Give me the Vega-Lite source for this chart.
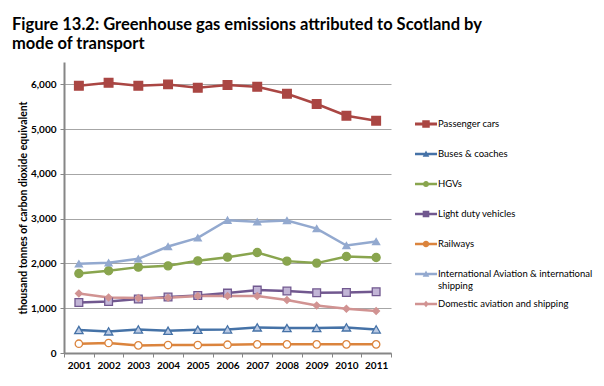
{
  "$schema": "https://vega.github.io/schema/vega-lite/v6.json",
  "autosize": "none",
  "width": 327,
  "height": 291,
  "padding": {"left": 64, "top": 62, "right": 213, "bottom": 33},
  "background": "white",
  "config": {
    "font": "Lato",
    "view": {"stroke": null},
    "axis": {"labelFont": "Lato", "titleFont": "Lato", "labelColor": "#000", "titleColor": "#000"}
  },
  "title": {
    "text": ["Figure 13.2: Greenhouse gas emissions attributed to Scotland by", "mode of transport"],
    "anchor": "start",
    "frame": "group",
    "dx": -52,
    "offset": 10,
    "font": "Lato",
    "fontSize": 16.5,
    "fontWeight": "bold",
    "lineHeight": 18.5,
    "color": "#000"
  },
  "data": {"values": [
    {"year": "2001", "series": "Passenger cars", "value": 5969},
    {"year": "2002", "series": "Passenger cars", "value": 6036},
    {"year": "2003", "series": "Passenger cars", "value": 5969},
    {"year": "2004", "series": "Passenger cars", "value": 6000},
    {"year": "2005", "series": "Passenger cars", "value": 5925},
    {"year": "2006", "series": "Passenger cars", "value": 5985},
    {"year": "2007", "series": "Passenger cars", "value": 5947},
    {"year": "2008", "series": "Passenger cars", "value": 5791},
    {"year": "2009", "series": "Passenger cars", "value": 5561},
    {"year": "2010", "series": "Passenger cars", "value": 5300},
    {"year": "2011", "series": "Passenger cars", "value": 5189},
    {"year": "2001", "series": "Buses & coaches", "value": 513},
    {"year": "2002", "series": "Buses & coaches", "value": 483},
    {"year": "2003", "series": "Buses & coaches", "value": 527},
    {"year": "2004", "series": "Buses & coaches", "value": 498},
    {"year": "2005", "series": "Buses & coaches", "value": 520},
    {"year": "2006", "series": "Buses & coaches", "value": 527},
    {"year": "2007", "series": "Buses & coaches", "value": 572},
    {"year": "2008", "series": "Buses & coaches", "value": 557},
    {"year": "2009", "series": "Buses & coaches", "value": 557},
    {"year": "2010", "series": "Buses & coaches", "value": 572},
    {"year": "2011", "series": "Buses & coaches", "value": 527},
    {"year": "2001", "series": "HGVs", "value": 1776},
    {"year": "2002", "series": "HGVs", "value": 1836},
    {"year": "2003", "series": "HGVs", "value": 1918},
    {"year": "2004", "series": "HGVs", "value": 1947},
    {"year": "2005", "series": "HGVs", "value": 2059},
    {"year": "2006", "series": "HGVs", "value": 2141},
    {"year": "2007", "series": "HGVs", "value": 2244},
    {"year": "2008", "series": "HGVs", "value": 2052},
    {"year": "2009", "series": "HGVs", "value": 2008},
    {"year": "2010", "series": "HGVs", "value": 2155},
    {"year": "2011", "series": "HGVs", "value": 2133},
    {"year": "2001", "series": "Light duty vehicles", "value": 1129},
    {"year": "2002", "series": "Light duty vehicles", "value": 1151},
    {"year": "2003", "series": "Light duty vehicles", "value": 1204},
    {"year": "2004", "series": "Light duty vehicles", "value": 1249},
    {"year": "2005", "series": "Light duty vehicles", "value": 1285},
    {"year": "2006", "series": "Light duty vehicles", "value": 1338},
    {"year": "2007", "series": "Light duty vehicles", "value": 1405},
    {"year": "2008", "series": "Light duty vehicles", "value": 1383},
    {"year": "2009", "series": "Light duty vehicles", "value": 1345},
    {"year": "2010", "series": "Light duty vehicles", "value": 1352},
    {"year": "2011", "series": "Light duty vehicles", "value": 1367},
    {"year": "2001", "series": "Railways", "value": 207},
    {"year": "2002", "series": "Railways", "value": 223},
    {"year": "2003", "series": "Railways", "value": 170},
    {"year": "2004", "series": "Railways", "value": 178},
    {"year": "2005", "series": "Railways", "value": 178},
    {"year": "2006", "series": "Railways", "value": 185},
    {"year": "2007", "series": "Railways", "value": 193},
    {"year": "2008", "series": "Railways", "value": 193},
    {"year": "2009", "series": "Railways", "value": 193},
    {"year": "2010", "series": "Railways", "value": 193},
    {"year": "2011", "series": "Railways", "value": 193},
    {"year": "2001", "series": "International Aviation & international shipping", "value": 1992},
    {"year": "2002", "series": "International Aviation & international shipping", "value": 2014},
    {"year": "2003", "series": "International Aviation & international shipping", "value": 2103},
    {"year": "2004", "series": "International Aviation & international shipping", "value": 2378},
    {"year": "2005", "series": "International Aviation & international shipping", "value": 2572},
    {"year": "2006", "series": "International Aviation & international shipping", "value": 2967},
    {"year": "2007", "series": "International Aviation & international shipping", "value": 2929},
    {"year": "2008", "series": "International Aviation & international shipping", "value": 2959},
    {"year": "2009", "series": "International Aviation & international shipping", "value": 2780},
    {"year": "2010", "series": "International Aviation & international shipping", "value": 2400},
    {"year": "2011", "series": "International Aviation & international shipping", "value": 2490},
    {"year": "2001", "series": "Domestic aviation and shipping", "value": 1330},
    {"year": "2002", "series": "Domestic aviation and shipping", "value": 1240},
    {"year": "2003", "series": "Domestic aviation and shipping", "value": 1227},
    {"year": "2004", "series": "Domestic aviation and shipping", "value": 1234},
    {"year": "2005", "series": "Domestic aviation and shipping", "value": 1271},
    {"year": "2006", "series": "Domestic aviation and shipping", "value": 1271},
    {"year": "2007", "series": "Domestic aviation and shipping", "value": 1271},
    {"year": "2008", "series": "Domestic aviation and shipping", "value": 1182},
    {"year": "2009", "series": "Domestic aviation and shipping", "value": 1062},
    {"year": "2010", "series": "Domestic aviation and shipping", "value": 988},
    {"year": "2011", "series": "Domestic aviation and shipping", "value": 937}
  ]},
  "encoding": {
    "x": {
      "field": "year", "type": "ordinal",
      "scale": {"type": "band", "paddingInner": 0, "paddingOuter": 0},
      "axis": {
        "title": null, "labelAngle": 0, "labelFontSize": 10, "labelFontWeight": "bold",
        "labelPadding": 3, "tickBand": "extent", "tickSize": 4, "tickColor": "#868686",
        "domainColor": "#868686", "domainWidth": 2, "grid": false
      }
    },
    "y": {
      "field": "value", "type": "quantitative",
      "scale": {"domain": [0, 6500], "nice": false},
      "axis": {
        "title": "thousand tonnes of carbon dioxide equivalent",
        "titleFontSize": 10.5, "titleFontWeight": "bold", "titlePadding": 2,
        "values": [0, 1000, 2000, 3000, 4000, 5000, 6000], "format": ",d",
        "labelFontSize": 10, "labelFontWeight": "bold", "labelPadding": 4,
        "tickSize": 4, "tickColor": "#868686", "domainColor": "#868686", "domainWidth": 2,
        "grid": true, "gridColor": "#a6a6a6", "gridWidth": 1
      }
    }
  },
  "layer": [
    {
      "mark": {"type": "line", "strokeWidth": 2.5},
      "encoding": {
        "color": {
          "field": "series", "type": "nominal", "legend": null,
          "scale": {
            "domain": ["Passenger cars", "Buses & coaches", "HGVs", "Light duty vehicles", "Railways", "International Aviation & international shipping", "Domestic aviation and shipping"],
            "range": ["#aa4643", "#4572a7", "#89a54e", "#71588f", "#db843d", "#93a9cf", "#d19392"]
          }
        }
      }
    },
    {
      "mark": {"type": "point", "filled": false, "strokeWidth": 1.3, "opacity": 1},
      "encoding": {
        "color": {"field": "series", "type": "nominal", "legend": null},
        "fill": {
          "field": "series", "type": "nominal", "legend": null,
          "scale": {
            "domain": ["Passenger cars", "Buses & coaches", "HGVs", "Light duty vehicles", "Railways", "International Aviation & international shipping", "Domestic aviation and shipping"],
            "range": ["#aa4643", "#b9c9e3", "#89a54e", "#c2b5d6", "#ffffff", "#93a9cf", "#d19392"]
          }
        },
        "shape": {
          "field": "series", "type": "nominal", "legend": null,
          "scale": {
            "domain": ["Passenger cars", "Buses & coaches", "HGVs", "Light duty vehicles", "Railways", "International Aviation & international shipping", "Domestic aviation and shipping"],
            "range": ["square", "triangle-up", "circle", "square", "circle", "triangle-up", "diamond"]
          }
        },
        "size": {
          "field": "series", "type": "nominal", "legend": null,
          "scale": {
            "domain": ["Passenger cars", "Buses & coaches", "HGVs", "Light duty vehicles", "Railways", "International Aviation & international shipping", "Domestic aviation and shipping"],
            "range": [75, 45, 40, 50, 55, 45, 40]
          }
        }
      }
    },
    {
      "mark": {"type": "point", "filled": true, "opacity": 0},
      "encoding": {
        "color": {
          "field": "series", "type": "nominal",
          "legend": {
            "title": null,
            "orient": "none",
            "legendX": 351,
            "legendY": 51,
            "padding": 0,
            "symbolSize": 484,
            "symbolStrokeWidth": 0,
            "symbolOpacity": 1,
            "gridAlign": "all",
            "rowPadding": 3,
            "labelFont": "Lato",
            "labelFontSize": 9.5,
            "labelColor": "#000",
            "labelOffset": 1,
            "labelLimit": 200,
            "labelExpr": "datum.label == 'International Aviation & international shipping' ? ['International Aviation & international', 'shipping'] : datum.label"
          }
        },
        "shape": {
          "field": "series", "type": "nominal",
          "scale": {
            "domain": ["Passenger cars", "Buses & coaches", "HGVs", "Light duty vehicles", "Railways", "International Aviation & international shipping", "Domestic aviation and shipping"],
            "range": [
              "M-1,-0.13H1V0.13H-1Z M-0.34,-0.34H0.34V0.34H-0.34Z",
              "M-1,-0.12H1V0.12H-1Z M0,-0.32L0.3,0.24H-0.3Z",
              "M-1,-0.12H1V0.12H-1Z M0.28,0A0.28,0.28 0 1 1 -0.28,0A0.28,0.28 0 1 1 0.28,0Z",
              "M-1,-0.12H1V0.12H-1Z M-0.3,-0.3H0.3V0.3H-0.3Z",
              "M-1,-0.12H1V0.12H-1Z M0.3,0A0.3,0.3 0 1 1 -0.3,0A0.3,0.3 0 1 1 0.3,0Z",
              "M-1,-0.12H1V0.12H-1Z M0,-0.32L0.3,0.24H-0.3Z",
              "M-1,-0.12H1V0.12H-1Z M0,-0.3L0.26,0L0,0.3L-0.26,0Z"
            ]
          },
          "legend": {
            "title": null,
            "orient": "none",
            "legendX": 351,
            "legendY": 51,
            "padding": 0,
            "symbolSize": 484,
            "symbolStrokeWidth": 0,
            "symbolOpacity": 1,
            "gridAlign": "all",
            "rowPadding": 3,
            "labelFont": "Lato",
            "labelFontSize": 9.5,
            "labelColor": "#000",
            "labelOffset": 1,
            "labelLimit": 200,
            "labelExpr": "datum.label == 'International Aviation & international shipping' ? ['International Aviation & international', 'shipping'] : datum.label"
          }
        }
      }
    }
  ],
  "resolve": {"scale": {"shape": "independent"}, "legend": {"color": "independent", "shape": "independent"}}
}
